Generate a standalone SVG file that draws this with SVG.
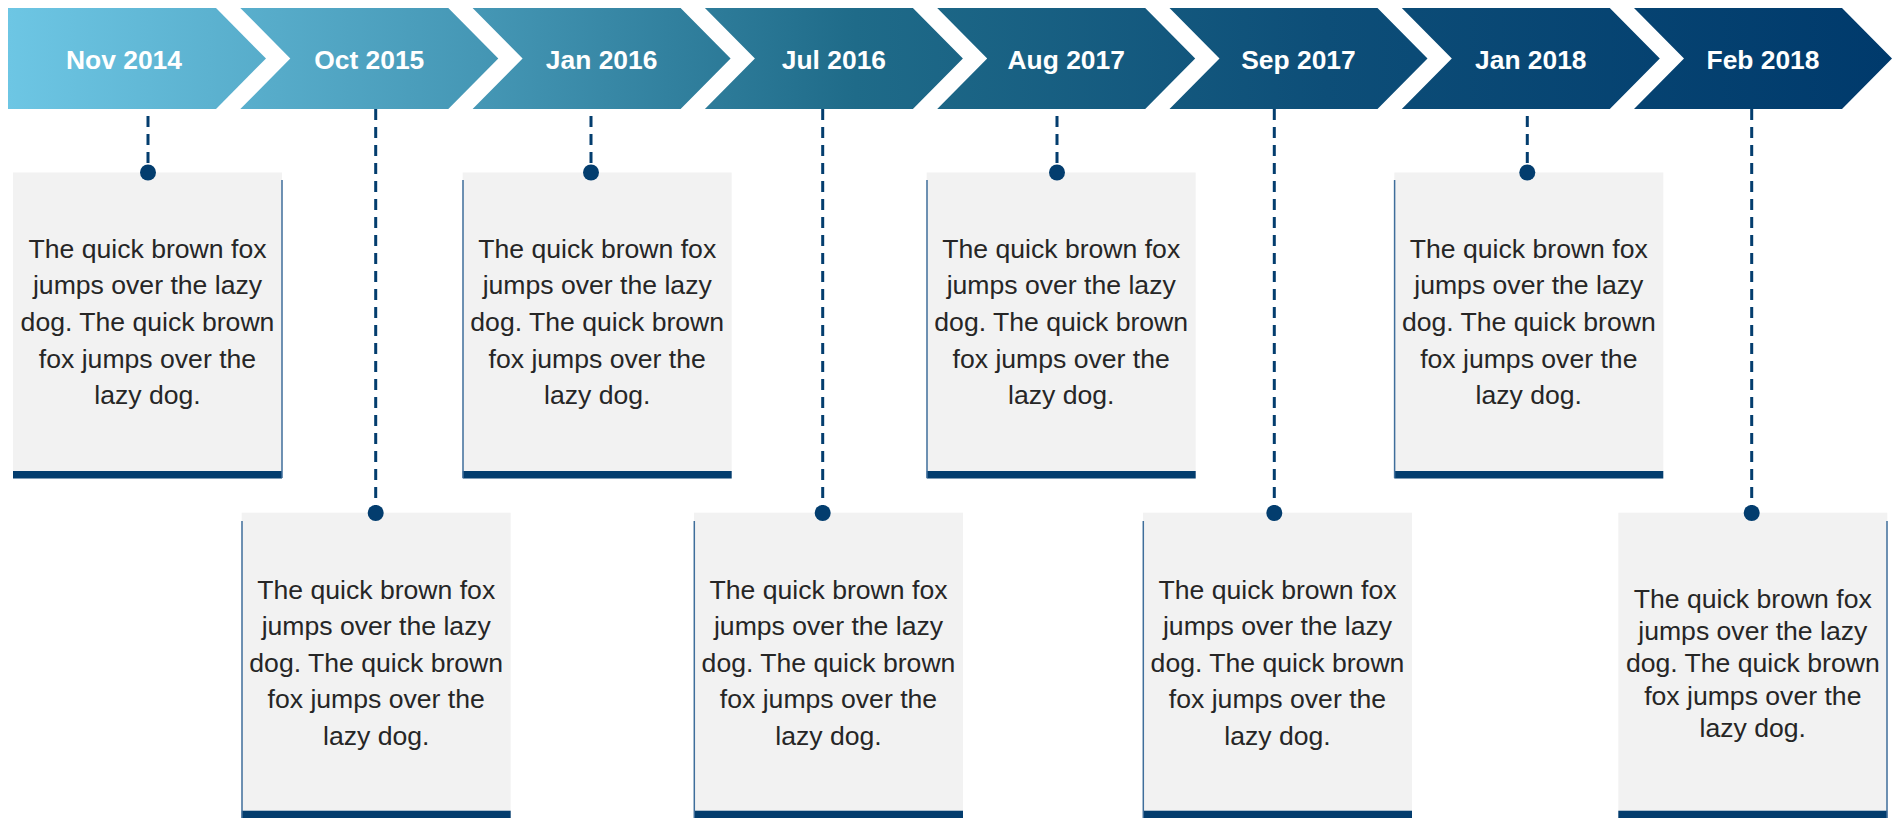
<svg xmlns="http://www.w3.org/2000/svg" width="1896" height="818" viewBox="0 0 1896 818">
<defs>
<linearGradient id="grad" gradientUnits="userSpaceOnUse" x1="8" y1="0" x2="1891" y2="0">
<stop offset="0" stop-color="#6DC6E4"/>
<stop offset="0.25" stop-color="#4597B5"/>
<stop offset="0.45" stop-color="#1F6B89"/>
<stop offset="0.7" stop-color="#0D4E78"/>
<stop offset="1" stop-color="#003A6C"/>
</linearGradient>
<style>
.chev{fill:url(#grad);}
.lbl{font-family:"Liberation Sans",Arial,sans-serif;font-weight:bold;font-size:26.4px;fill:#FFFFFF;text-anchor:middle;}
.box{fill:#F2F2F2;}
.bar{fill:#033D6E;}
.edge{stroke:#3F6E9B;stroke-width:1.5;fill:none;}
.txt{font-family:"Liberation Sans",Arial,sans-serif;font-size:26.6px;fill:#262626;text-anchor:middle;}
.dash{stroke:#033D6E;stroke-width:3;stroke-dasharray:11 7;fill:none;}
.dot{fill:#033D6E;}
</style>
</defs>
<rect width="1896" height="818" fill="#FFFFFF"/>

<g id="connectors">
<line class="dash" x1="148" y1="116" x2="148" y2="172"/>
<line class="dash" x1="375.7" y1="109" x2="375.7" y2="513"/>
<line class="dash" x1="591" y1="116" x2="591" y2="172"/>
<line class="dash" x1="822.7" y1="109" x2="822.7" y2="513"/>
<line class="dash" x1="1057" y1="116" x2="1057" y2="172"/>
<line class="dash" x1="1274.3" y1="109" x2="1274.3" y2="513"/>
<line class="dash" x1="1527.3" y1="116" x2="1527.3" y2="172"/>
<line class="dash" x1="1751.7" y1="109" x2="1751.7" y2="513"/>
</g>

<g id="chevron-0"><polygon class="chev" points="8,8 216,8 266,58.5 216,109 8,109"/><text class="lbl" x="124" y="69.3">Nov 2014</text></g>
<g id="chevron-1"><polygon class="chev" points="240.3,8 448.3,8 498.3,58.5 448.3,109 240.3,109 290.3,58.5"/><text class="lbl" x="369.3" y="69.3">Oct 2015</text></g>
<g id="chevron-2"><polygon class="chev" points="472.6,8 680.6,8 730.6,58.5 680.6,109 472.6,109 522.6,58.5"/><text class="lbl" x="601.6" y="69.3">Jan 2016</text></g>
<g id="chevron-3"><polygon class="chev" points="704.9,8 912.9,8 962.9,58.5 912.9,109 704.9,109 754.9,58.5"/><text class="lbl" x="833.9" y="69.3">Jul 2016</text></g>
<g id="chevron-4"><polygon class="chev" points="937.2,8 1145.2,8 1195.2,58.5 1145.2,109 937.2,109 987.2,58.5"/><text class="lbl" x="1066.2" y="69.3">Aug 2017</text></g>
<g id="chevron-5"><polygon class="chev" points="1169.5,8 1377.5,8 1427.5,58.5 1377.5,109 1169.5,109 1219.5,58.5"/><text class="lbl" x="1298.5" y="69.3">Sep 2017</text></g>
<g id="chevron-6"><polygon class="chev" points="1401.8,8 1609.8,8 1659.8,58.5 1609.8,109 1401.8,109 1451.8,58.5"/><text class="lbl" x="1530.8" y="69.3">Jan 2018</text></g>
<g id="chevron-7"><polygon class="chev" points="1634,8 1842,8 1892,58.5 1842,109 1634,109 1684,58.5"/><text class="lbl" x="1763" y="69.3">Feb 2018</text></g>

<g id="box-0">
<rect class="box" x="13" y="172.5" width="269" height="299"/>
<rect class="bar" x="13" y="471" width="269" height="7.5"/>
<line class="edge" x1="282" y1="180" x2="282" y2="478"/>
<circle class="dot" cx="148" cy="172.5" r="8"/>
<text class="txt"><tspan x="147.5" y="257.7">The quick brown fox</tspan><tspan x="147.5" y="294.3">jumps over the lazy</tspan><tspan x="147.5" y="330.9">dog. The quick brown</tspan><tspan x="147.5" y="367.5">fox jumps over the</tspan><tspan x="147.5" y="404.1">lazy dog.</tspan></text>
</g>

<g id="box-1">
<rect class="box" x="241.7" y="512.7" width="269" height="298"/>
<rect class="bar" x="241.7" y="810.7" width="269" height="7.3"/>
<line class="edge" x1="242" y1="521" x2="242" y2="818"/>
<circle class="dot" cx="375.7" cy="513" r="8"/>
<text class="txt"><tspan x="376.2" y="599">The quick brown fox</tspan><tspan x="376.2" y="635.4">jumps over the lazy</tspan><tspan x="376.2" y="671.8">dog. The quick brown</tspan><tspan x="376.2" y="708.2">fox jumps over the</tspan><tspan x="376.2" y="744.6">lazy dog.</tspan></text>
</g>

<g id="box-2">
<rect class="box" x="462.7" y="172.5" width="269" height="299"/>
<rect class="bar" x="462.7" y="471" width="269" height="7.5"/>
<line class="edge" x1="463" y1="180" x2="463" y2="478"/>
<circle class="dot" cx="591" cy="172.5" r="8"/>
<text class="txt"><tspan x="597.2" y="257.7">The quick brown fox</tspan><tspan x="597.2" y="294.3">jumps over the lazy</tspan><tspan x="597.2" y="330.9">dog. The quick brown</tspan><tspan x="597.2" y="367.5">fox jumps over the</tspan><tspan x="597.2" y="404.1">lazy dog.</tspan></text>
</g>

<g id="box-3">
<rect class="box" x="694" y="512.7" width="269" height="298"/>
<rect class="bar" x="694" y="810.7" width="269" height="7.3"/>
<line class="edge" x1="694.3" y1="521" x2="694.3" y2="818"/>
<circle class="dot" cx="822.7" cy="513" r="8"/>
<text class="txt"><tspan x="828.5" y="599">The quick brown fox</tspan><tspan x="828.5" y="635.4">jumps over the lazy</tspan><tspan x="828.5" y="671.8">dog. The quick brown</tspan><tspan x="828.5" y="708.2">fox jumps over the</tspan><tspan x="828.5" y="744.6">lazy dog.</tspan></text>
</g>

<g id="box-4">
<rect class="box" x="926.7" y="172.5" width="269" height="299"/>
<rect class="bar" x="926.7" y="471" width="269" height="7.5"/>
<line class="edge" x1="927" y1="180" x2="927" y2="478"/>
<circle class="dot" cx="1057" cy="172.5" r="8"/>
<text class="txt"><tspan x="1061.2" y="257.7">The quick brown fox</tspan><tspan x="1061.2" y="294.3">jumps over the lazy</tspan><tspan x="1061.2" y="330.9">dog. The quick brown</tspan><tspan x="1061.2" y="367.5">fox jumps over the</tspan><tspan x="1061.2" y="404.1">lazy dog.</tspan></text>
</g>

<g id="box-5">
<rect class="box" x="1143" y="512.7" width="269" height="298"/>
<rect class="bar" x="1143" y="810.7" width="269" height="7.3"/>
<line class="edge" x1="1143.3" y1="521" x2="1143.3" y2="818"/>
<circle class="dot" cx="1274.3" cy="513" r="8"/>
<text class="txt"><tspan x="1277.5" y="599">The quick brown fox</tspan><tspan x="1277.5" y="635.4">jumps over the lazy</tspan><tspan x="1277.5" y="671.8">dog. The quick brown</tspan><tspan x="1277.5" y="708.2">fox jumps over the</tspan><tspan x="1277.5" y="744.6">lazy dog.</tspan></text>
</g>

<g id="box-6">
<rect class="box" x="1394.3" y="172.5" width="269" height="299"/>
<rect class="bar" x="1394.3" y="471" width="269" height="7.5"/>
<line class="edge" x1="1394.6" y1="180" x2="1394.6" y2="478"/>
<circle class="dot" cx="1527.3" cy="172.5" r="8"/>
<text class="txt"><tspan x="1528.8" y="257.7">The quick brown fox</tspan><tspan x="1528.8" y="294.3">jumps over the lazy</tspan><tspan x="1528.8" y="330.9">dog. The quick brown</tspan><tspan x="1528.8" y="367.5">fox jumps over the</tspan><tspan x="1528.8" y="404.1">lazy dog.</tspan></text>
</g>

<g id="box-7">
<rect class="box" x="1618.3" y="512.7" width="269" height="298"/>
<rect class="bar" x="1618.3" y="810.7" width="269" height="7.3"/>
<line class="edge" x1="1887" y1="521" x2="1887" y2="818"/>
<circle class="dot" cx="1751.7" cy="513" r="8"/>
<text class="txt"><tspan x="1752.8" y="607.7">The quick brown fox</tspan><tspan x="1752.8" y="640">jumps over the lazy</tspan><tspan x="1752.8" y="672.3">dog. The quick brown</tspan><tspan x="1752.8" y="704.6">fox jumps over the</tspan><tspan x="1752.8" y="736.9">lazy dog.</tspan></text>
</g>
</svg>
